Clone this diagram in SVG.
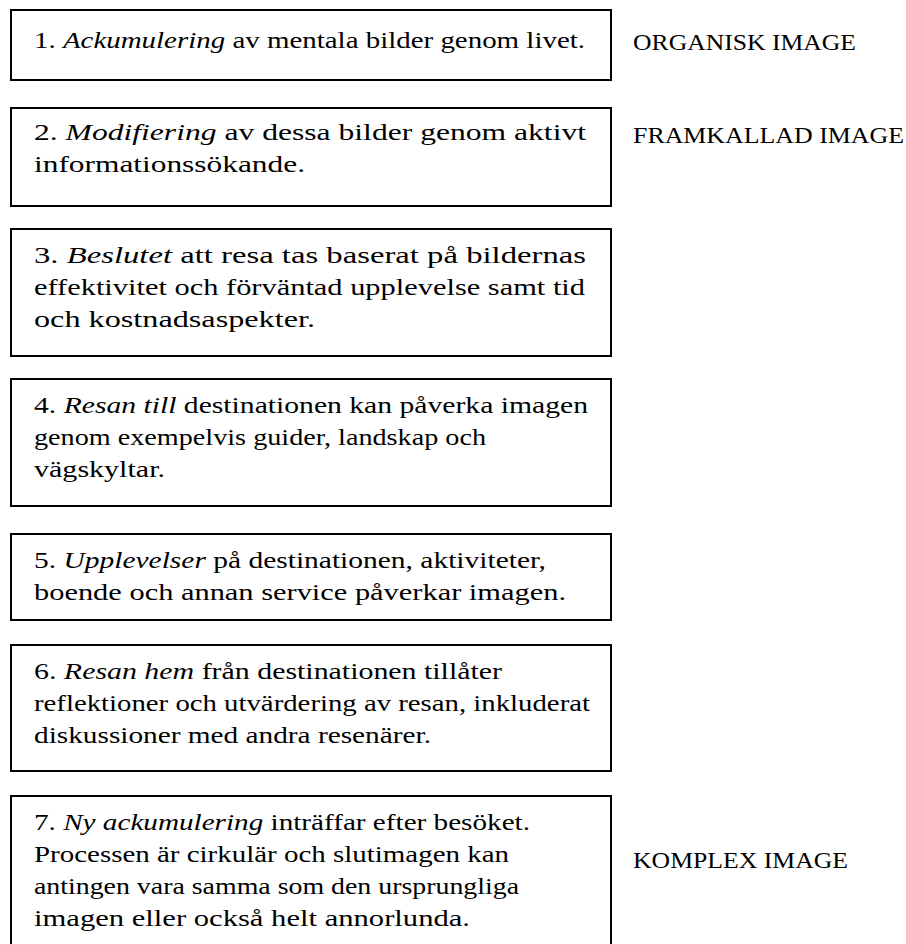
<svg xmlns="http://www.w3.org/2000/svg" width="906" height="944" viewBox="0 0 906 944">
<style>
.box{fill:#fff;stroke:#000;stroke-width:2}
text{font-family:"Liberation Serif","Times New Roman",serif;font-size:23.5px;fill:#000}
.i{font-style:italic}
</style>
<rect width="906" height="944" fill="#fff"/>
<g id="connectors"></g>
<g id="n1">
<rect class="box" x="11" y="10" width="600" height="70"/>
<text x="34" y="48" textLength="551" lengthAdjust="spacingAndGlyphs">1. <tspan class="i">Ackumulering</tspan> av mentala bilder genom livet.</text>
</g>
<g id="n2">
<rect class="box" x="11" y="108" width="600" height="98"/>
<text x="34" y="140" textLength="552" lengthAdjust="spacingAndGlyphs">2. <tspan class="i">Modifiering</tspan> av dessa bilder genom aktivt</text>
<text x="34" y="172" textLength="271" lengthAdjust="spacingAndGlyphs">informationssökande.</text>
</g>
<g id="n3">
<rect class="box" x="11" y="229" width="600" height="127"/>
<text x="34" y="263" textLength="552" lengthAdjust="spacingAndGlyphs">3. <tspan class="i">Beslutet</tspan> att resa tas baserat på bildernas</text>
<text x="34" y="295" textLength="551" lengthAdjust="spacingAndGlyphs">effektivitet och förväntad upplevelse samt tid</text>
<text x="34" y="327" textLength="281" lengthAdjust="spacingAndGlyphs">och kostnadsaspekter.</text>
</g>
<g id="n4">
<rect class="box" x="11" y="379" width="600" height="127"/>
<text x="34" y="413" textLength="554" lengthAdjust="spacingAndGlyphs">4. <tspan class="i">Resan till</tspan> destinationen kan påverka imagen</text>
<text x="34" y="445" textLength="452" lengthAdjust="spacingAndGlyphs">genom exempelvis guider, landskap och</text>
<text x="34" y="477" textLength="131" lengthAdjust="spacingAndGlyphs">vägskyltar.</text>
</g>
<g id="n5">
<rect class="box" x="11" y="534" width="600" height="86"/>
<text x="34" y="568" textLength="512" lengthAdjust="spacingAndGlyphs">5. <tspan class="i">Upplevelser</tspan> på destinationen, aktiviteter,</text>
<text x="34" y="600" textLength="532" lengthAdjust="spacingAndGlyphs">boende och annan service påverkar imagen.</text>
</g>
<g id="n6">
<rect class="box" x="11" y="645" width="600" height="126"/>
<text x="34" y="679" textLength="468" lengthAdjust="spacingAndGlyphs">6. <tspan class="i">Resan hem</tspan> från destinationen tillåter</text>
<text x="34" y="711" textLength="556" lengthAdjust="spacingAndGlyphs">reflektioner och utvärdering av resan, inkluderat</text>
<text x="34" y="743" textLength="397" lengthAdjust="spacingAndGlyphs">diskussioner med andra resenärer.</text>
</g>
<g id="n7">
<rect class="box" x="11" y="796" width="600" height="152"/>
<text x="34" y="830" textLength="496" lengthAdjust="spacingAndGlyphs">7. <tspan class="i">Ny ackumulering</tspan> inträffar efter besöket.</text>
<text x="34" y="862" textLength="475" lengthAdjust="spacingAndGlyphs">Processen är cirkulär och slutimagen kan</text>
<text x="34" y="894" textLength="485" lengthAdjust="spacingAndGlyphs">antingen vara samma som den ursprungliga</text>
<text x="34" y="926" textLength="436" lengthAdjust="spacingAndGlyphs">imagen eller också helt annorlunda.</text>
</g>
<g id="label-organisk"><text x="633" y="50" textLength="223" lengthAdjust="spacingAndGlyphs">ORGANISK IMAGE</text></g>
<g id="label-framkallad"><text x="633" y="143" textLength="271" lengthAdjust="spacingAndGlyphs">FRAMKALLAD IMAGE</text></g>
<g id="label-komplex"><text x="633" y="868" textLength="215" lengthAdjust="spacingAndGlyphs">KOMPLEX IMAGE</text></g>
</svg>
